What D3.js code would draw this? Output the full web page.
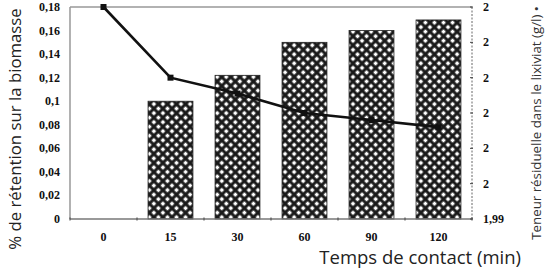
<!DOCTYPE html>
<html>
<head>
<meta charset="utf-8">
<script src="https://cdn.jsdelivr.net/npm/d3@7"></script>
<style>
  body { margin: 0; background: #fff; }
  svg { display: block; }
</style>
</head>
<body>
<svg id="chart" width="551" height="272"></svg>
<script>
// temps de contact (min)
var categories = ["0", "15", "30", "60", "90", "120"];
// % de rétention sur la biomasse (barres)
var retention = [0, 0.10, 0.122, 0.15, 0.16, 0.169];
// teneur résiduelle dans le lixiviat (g/l) (courbe)
var teneur = [2.002, 1.998, 1.9971, 1.996, 1.9956, 1.9952];
var leftTicks = [0, 0.02, 0.04, 0.06, 0.08, 0.1, 0.12, 0.14, 0.16, 0.18];
var leftTickLabels = ["0", "0,02", "0,04", "0,06", "0,08", "0,1", "0,12", "0,14", "0,16", "0,18"];
var rightTicks = [1.99, 1.992, 1.994, 1.996, 1.998, 2.0, 2.002];
var rightTickLabels = ["1,99", "2", "2", "2", "2", "2", "2"];

var svg = d3.select("#chart");
// note: "top" is window.top, don't use it as a name
var plotL = 70, plotR = 472, plotT = 7, plotB = 219;

var x = d3.scaleBand().domain(categories).range([plotL, plotR])
    .paddingInner(0.33).paddingOuter(0.165);
var y = d3.scaleLinear().domain([0, 0.18]).range([plotB, plotT]);
var y2 = d3.scaleLinear().domain([1.99, 2.002]).range([plotB, plotT]);

// hachures
var defs = svg.append("defs");
var pat = defs.append("pattern")
    .attr("id", "hatch")
    .attr("patternUnits", "userSpaceOnUse")
    .attr("width", 6.4).attr("height", 6.4)
    .attr("patternTransform", "rotate(45)");
pat.append("rect").attr("width", 6.4).attr("height", 6.4).attr("fill", "#1a1a1a");
pat.append("rect").attr("x", 1.5).attr("y", 1.5).attr("width", 3.4).attr("height", 3.4).attr("fill", "#fff");

// barres
svg.append("g").selectAll("rect")
    .data(categories.map(function(c, i) { return { c: c, v: retention[i] }; }).filter(function(d) { return d.v > 0; }))
    .enter().append("rect")
    .attr("x", function(d) { return x(d.c); })
    .attr("y", function(d) { return y(d.v); })
    .attr("width", x.bandwidth())
    .attr("height", function(d) { return plotB - y(d.v); })
    .attr("fill", "url(#hatch)")
    .attr("stroke", "#222")
    .attr("stroke-width", 0.8);

// cadre
svg.append("line").attr("x1", plotL).attr("x2", plotL).attr("y1", plotT).attr("y2", plotB)
    .attr("stroke", "#888").attr("stroke-width", 1.3);
svg.append("line").attr("x1", plotL).attr("x2", plotR).attr("y1", plotT).attr("y2", plotT)
    .attr("stroke", "#999").attr("stroke-width", 1.3);
svg.append("line").attr("x1", plotR).attr("x2", plotR).attr("y1", plotT).attr("y2", plotB)
    .attr("stroke", "#666").attr("stroke-width", 1).attr("stroke-dasharray", "2,1.5");
svg.append("line").attr("x1", plotL).attr("x2", plotR).attr("y1", plotB).attr("y2", plotB)
    .attr("stroke", "#777").attr("stroke-width", 1.3);

// axe bas
var step = x.step();
svg.append("g").selectAll("line")
    .data(d3.range(categories.length + 1))
    .enter().append("line")
    .attr("x1", function(i) { return plotL + i * step; })
    .attr("x2", function(i) { return plotL + i * step; })
    .attr("y1", plotB - 1.5).attr("y2", plotB + 1.5)
    .attr("stroke", "#555").attr("stroke-width", 1.2);
svg.append("g").selectAll("text")
    .data(categories)
    .enter().append("text")
    .attr("x", function(d) { return x(d) + x.bandwidth() / 2; })
    .attr("y", 241)
    .attr("text-anchor", "middle")
    .style("font-family", "Liberation Serif")
    .style("font-weight", "bold")
    .style("font-size", "12px")
    .attr("fill", "#111")
    .text(function(d) { return d; });

// axe gauche
svg.append("g").selectAll("text")
    .data(leftTicks)
    .enter().append("text")
    .attr("x", 60)
    .attr("y", function(d) { return y(d) + 4; })
    .attr("text-anchor", "end")
    .style("font-family", "Liberation Serif")
    .style("font-weight", "bold")
    .style("font-size", "12px")
    .attr("fill", "#111")
    .text(function(d, i) { return leftTickLabels[i]; });

// axe droit
svg.append("g").selectAll("line")
    .data(rightTicks)
    .enter().append("line")
    .attr("x1", plotR - 2).attr("x2", plotR + 1)
    .attr("y1", function(d) { return y2(d); })
    .attr("y2", function(d) { return y2(d); })
    .attr("stroke", "#444").attr("stroke-width", 1);
svg.append("g").selectAll("text")
    .data(rightTicks)
    .enter().append("text")
    .attr("x", 483)
    .attr("y", function(d) { return y2(d) + 4; })
    .attr("text-anchor", "start")
    .style("font-family", "Liberation Serif")
    .style("font-weight", "bold")
    .style("font-size", "12px")
    .attr("fill", "#111")
    .text(function(d, i) { return rightTickLabels[i]; });

// courbe
var line = d3.line()
    .x(function(d, i) { return x(categories[i]) + x.bandwidth() / 2; })
    .y(function(d) { return y2(d); });
svg.append("path")
    .datum(teneur)
    .attr("d", line)
    .attr("fill", "none")
    .attr("stroke", "#111")
    .attr("stroke-width", 2.6);
svg.append("g").selectAll("rect")
    .data(teneur)
    .enter().append("rect")
    .attr("x", function(d, i) { return x(categories[i]) + x.bandwidth() / 2 - 3; })
    .attr("y", function(d) { return y2(d) - 3; })
    .attr("width", 6).attr("height", 6)
    .attr("fill", "#111");

// titres
svg.append("text")
    .attr("transform", "translate(21,129) rotate(-90)")
    .attr("text-anchor", "middle")
    .style("font-family", "Open Sans")
    .style("font-size", "16.8px")
    .attr("fill", "#222")
    .text("% de rétention sur la biomasse");

svg.append("text")
    .attr("x", 521).attr("y", 264)
    .attr("text-anchor", "end")
    .style("font-family", "Open Sans")
    .style("font-size", "18.5px")
    .attr("fill", "#222")
    .text("Temps de contact (min)");

svg.append("text")
    .attr("transform", "translate(541,123) rotate(-90)")
    .attr("text-anchor", "middle")
    .style("font-family", "Open Sans")
    .style("font-size", "13.3px")
    .attr("fill", "#333")
    .text("Teneur résiduelle dans le lixiviat (g/l) •");
</script>
</body>
</html>
